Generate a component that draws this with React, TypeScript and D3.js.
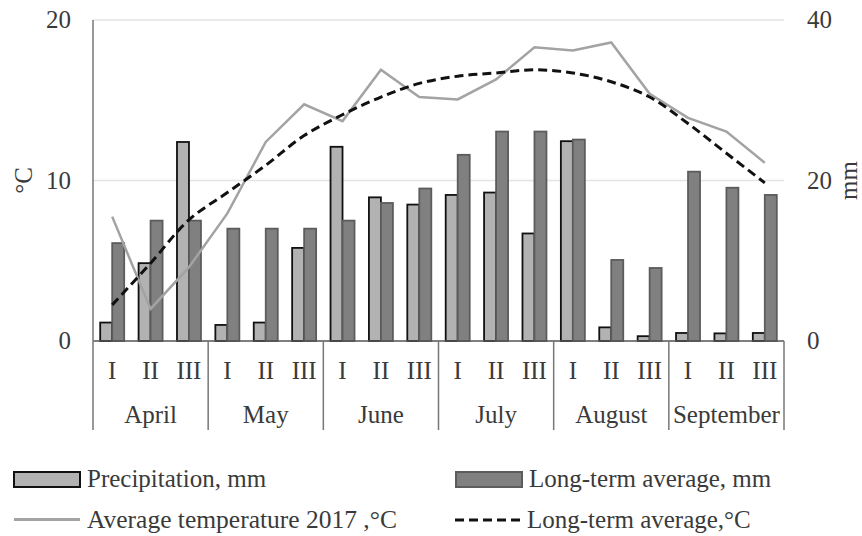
import React from "react";
import * as d3 from "d3";

// Ten-day periods (decades) of each month
const months = ["April", "May", "June", "July", "August", "September"];
const decades = ["I", "II", "III"];

// Precipitation per decade, mm
const precipitation = [2.3, 9.7, 24.8, 2.0, 2.3, 11.6, 24.2, 17.9, 17.0, 18.2, 18.5, 13.4, 24.9, 1.7, 0.6, 1.0, 0.95, 1.0];
// Long-term average precipitation, mm
const precipitationNorm = [12.2, 15, 15, 14, 14, 14, 15, 17.2, 19, 23.2, 26.1, 26.1, 25.1, 10.1, 9.1, 21.1, 19.1, 18.2];
// Average air temperature 2017, °C
const temperature2017 = [7.75, 2.0, 4.6, 7.95, 12.4, 14.75, 13.7, 16.9, 15.2, 15.05, 16.3, 18.3, 18.1, 18.6, 15.4, 13.9, 13.05, 11.1];
// Long-term average temperature, °C
const temperatureNorm = [2.25, 4.85, 7.55, 9.25, 10.95, 12.8, 14.1, 15.2, 16.05, 16.5, 16.7, 16.9, 16.7, 16.15, 15.2, 13.55, 11.7, 9.85];

const tempTicks = [0, 10, 20];
const mmTicks = [0, 20, 40];

const W = 862;
const H = 536;
const left = 93;
const right = 784;
const top = 20;
const bottom = 341;
const catBottom = 430;
const FONT = "'Liberation Serif', 'Times New Roman', serif";
const TEXT = "#3a3a3a";

const categories = months.flatMap((m) => decades.map((d) => `${m}-${d}`));

export default function App() {
  const x = d3.scaleBand<string>().domain(categories).range([left, right]).paddingInner(0).paddingOuter(0);
  const series = d3.scaleBand<string>().domain(["p", "n"]).range([0, x.bandwidth()]).paddingInner(0).paddingOuter(0.6);
  const yT = d3.scaleLinear().domain([0, 20]).range([bottom, top]);
  const yMM = d3.scaleLinear().domain([0, 40]).range([bottom, top]);
  const cx = (i: number) => (x(categories[i]) as number) + x.bandwidth() / 2;

  const solid = d3
    .line<number>()
    .x((_, i) => cx(i))
    .y((d) => yT(d));
  const smooth = d3
    .line<number>()
    .x((_, i) => cx(i))
    .y((d) => yT(d))
    .curve(d3.curveCatmullRom.alpha(0.5));

  const bw = series.bandwidth();
  const monthWidth = x.step() * 3;

  return (
    <svg width={W} height={H} style={{ position: "absolute", left: 0, top: 0, background: "#fff" }} fontFamily={FONT}>
      {/* gridlines */}
      {tempTicks.filter((t) => t > 0).map((t) => (
        <line key={t} x1={left} x2={right} y1={yT(t)} y2={yT(t)} stroke="#e4e4e4" strokeWidth={1.5} />
      ))}

      {/* bars */}
      {categories.map((c, i) => (
        <g key={c}>
          <rect
            x={(x(c) as number) + (series("p") as number)}
            y={yMM(precipitation[i])}
            width={bw}
            height={bottom - yMM(precipitation[i])}
            fill="#b2b2b2"
            stroke="#111"
            strokeWidth={1.8}
          />
          <rect
            x={(x(c) as number) + (series("n") as number)}
            y={yMM(precipitationNorm[i])}
            width={bw}
            height={bottom - yMM(precipitationNorm[i])}
            fill="#808080"
            stroke="#5c5c5c"
            strokeWidth={1.8}
          />
        </g>
      ))}

      {/* axes */}
      <line x1={left} x2={right} y1={bottom} y2={bottom} stroke="#555" strokeWidth={1.5} />
      <line x1={left} x2={left} y1={top} y2={catBottom} stroke="#777" strokeWidth={1.5} />
      {months.map((m, k) => (
        <line
          key={m}
          x1={left + monthWidth * (k + 1)}
          x2={left + monthWidth * (k + 1)}
          y1={bottom}
          y2={catBottom}
          stroke="#777"
          strokeWidth={1.5}
        />
      ))}

      {/* temperature lines */}
      <path d={solid(temperature2017) ?? ""} fill="none" stroke="#a3a3a3" strokeWidth={2.5} />
      <path d={smooth(temperatureNorm) ?? ""} fill="none" stroke="#111" strokeWidth={3} strokeDasharray="9 5" />

      {/* tick labels */}
      {tempTicks.map((t) => (
        <text key={t} x={71} y={yT(t) + 8} textAnchor="end" fontSize={25} fill={TEXT}>
          {t}
        </text>
      ))}
      {mmTicks.map((t) => (
        <text key={t} x={807} y={yMM(t) + 8} textAnchor="start" fontSize={25} fill={TEXT}>
          {t}
        </text>
      ))}
      <text transform={`translate(32,${yT(10)}) rotate(-90)`} textAnchor="middle" fontSize={25} fill={TEXT}>
        °C
      </text>
      <text transform={`translate(857,${yT(10)}) rotate(-90)`} textAnchor="middle" fontSize={25} fill={TEXT}>
        mm
      </text>

      {/* category labels */}
      {categories.map((c, i) => (
        <text key={c} x={cx(i)} y={379} textAnchor="middle" fontSize={25} fill={TEXT}>
          {decades[i % 3]}
        </text>
      ))}
      {months.map((m, k) => (
        <text key={m} x={left + monthWidth * (k + 0.5)} y={423} textAnchor="middle" fontSize={25} fill={TEXT}>
          {m}
        </text>
      ))}

      {/* legend */}
      <rect x={14} y={472} width={66} height={15} fill="#b2b2b2" stroke="#111" strokeWidth={2} />
      <text x={87} y={487} fontSize={25} fill={TEXT}>Precipitation, mm</text>
      <rect x={456} y={472} width={66} height={15} fill="#808080" stroke="#5c5c5c" strokeWidth={2} />
      <text x={529} y={487} fontSize={25} fill={TEXT}>Long-term average, mm</text>
      <line x1={14} x2={80} y1={519.5} y2={519.5} stroke="#a3a3a3" strokeWidth={3} />
      <text x={87} y={527.5} fontSize={25.5} fill={TEXT}>Average temperature 2017 ,°C</text>
      <line x1={455} x2={522} y1={520} y2={520} stroke="#111" strokeWidth={3} strokeDasharray="9 5" />
      <text x={527} y={527.5} fontSize={25} fill={TEXT}>Long-term average,°C</text>
    </svg>
  );
}
